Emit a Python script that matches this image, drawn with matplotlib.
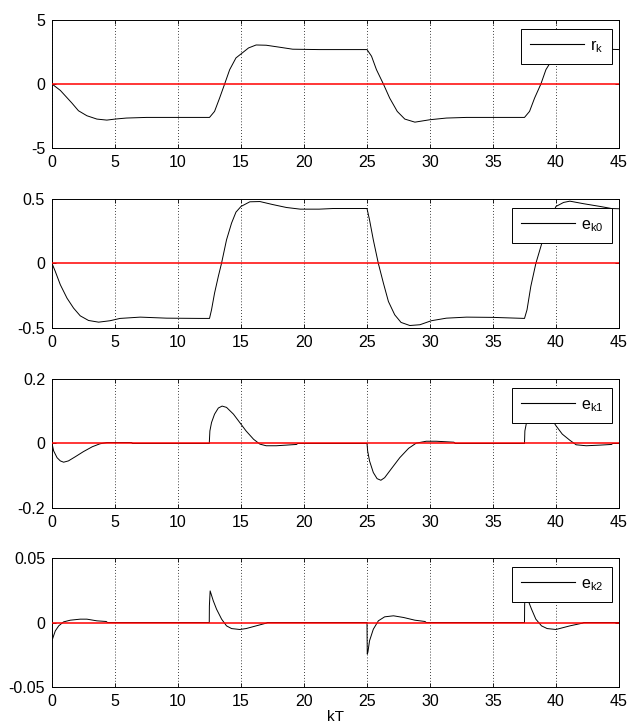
import matplotlib
matplotlib.use("Agg")
import matplotlib.pyplot as plt

plt.rcParams["font.family"] = ["Liberation Sans", "DejaVu Sans"]
plt.rcParams["axes.unicode_minus"] = False
plt.rcParams["font.size"] = 11.5

# values, one list per curve
rk_t = [0, 0.66, 1.58, 2.1, 2.77, 3.56, 4.35, 5.0, 5.9, 7.5, 12.5,
        12.9, 13.3, 13.7, 14.1, 14.6, 15.0, 15.6, 16.2, 17.0, 18.1, 19.1, 21.2, 25.0,
        25.36, 25.75, 26.3, 26.8, 27.4, 28.0, 28.8, 30.0, 31.3, 32.9, 37.5,
        37.9, 38.3, 38.8, 39.2, 39.5, 40.0, 40.6, 41.2, 42.0, 43.1, 44.1, 45.0]
rk_v = [0, -0.5, -1.49, -2.09, -2.48, -2.74, -2.82, -2.74, -2.66, -2.61, -2.61,
        -2.14, -1.1, 0, 1.12, 2.04, 2.35, 2.82, 3.05, 3.03, 2.87, 2.72, 2.69, 2.69,
        2.17, 1.12, 0, -1.1, -2.14, -2.74, -2.98, -2.79, -2.66, -2.61, -2.61,
        -2.14, -1.1, 0, 1.12, 1.6, 2.35, 2.82, 3.05, 3.03, 2.87, 2.72, 2.69]

ek0_t = [0, 0.26, 0.66, 1.19, 1.71, 2.24, 2.9, 3.7, 4.6, 5.4, 7.0, 9.1, 11.7, 12.5,
         12.66, 12.9, 13.2, 13.45, 13.85, 14.25, 14.6, 15.0, 15.7, 16.5, 17.5, 18.6,
         19.7, 21.2, 22.3, 25.0,
         25.2, 25.5, 25.9, 26.3, 26.7, 27.2, 27.7, 28.4, 29.2, 30.1, 31.3, 32.9, 35.0,
         37.5, 37.7, 38.0, 38.4, 38.8, 39.3, 40.0, 40.6, 41.1, 42.2, 43.5, 44.4, 45.0]
ek0_v = [0, -0.062, -0.165, -0.269, -0.346, -0.406, -0.442, -0.455, -0.444, -0.426,
         -0.416, -0.424, -0.426, -0.426,
         -0.359, -0.23, -0.10, 0, 0.183, 0.313, 0.398, 0.442, 0.478, 0.48, 0.457, 0.434,
         0.421, 0.421, 0.426, 0.426,
         0.338, 0.183, 0, -0.152, -0.295, -0.398, -0.457, -0.481, -0.475, -0.444,
         -0.424, -0.416, -0.418, -0.426,
         -0.359, -0.178, 0, 0.132, 0.3, 0.442, 0.473, 0.483, 0.463, 0.442, 0.426, 0.424]

ek1_t = [0, 0.13, 0.4, 0.66, 0.92, 1.3, 1.85, 2.5, 3.2, 3.8, 4.35, 6.3, 6.4, 12.48,
         12.53, 12.66, 12.9, 13.2, 13.5, 13.85, 14.4, 14.9, 15.4, 16.0, 16.5, 17.0,
         17.8, 18.6, 19.4, 19.5, 25.0,
         25.05, 25.2, 25.5, 25.8, 26.1, 26.4, 26.9, 27.6, 28.3, 28.9, 29.7, 30.5, 31.9,
         32.0, 37.5,
         37.53, 37.66, 37.9, 38.2, 38.5, 38.85, 39.4, 40.0, 40.5, 41.1, 41.6, 42.4,
         43.5, 44.4, 44.5, 45.0]
ek1_v = [0, -0.023, -0.044, -0.054, -0.058, -0.054, -0.041, -0.025, -0.010, -0.001,
         0.003, 0.003, 0, 0,
         0.039, 0.065, 0.091, 0.11, 0.116, 0.112, 0.091, 0.065, 0.039, 0.013, -0.002,
         -0.007, -0.007, -0.005, -0.003, 0, 0,
         -0.023, -0.054, -0.09, -0.109, -0.114, -0.106, -0.08, -0.044, -0.015, 0.001,
         0.007, 0.007, 0.004, 0, 0,
         0.039, 0.065, 0.091, 0.11, 0.116, 0.112, 0.091, 0.055, 0.029, 0.01, -0.004,
         -0.007, -0.005, -0.003, 0, 0]

ek2_t = [0, 0.04, 0.08, 0.26, 0.53, 0.92, 1.45, 2.24, 2.77, 3.56, 4.3, 4.4, 12.48,
         12.49, 12.55, 12.8, 13.06, 13.46, 13.85, 14.25, 14.9, 15.4, 16.2, 17.0, 17.1,
         25.0,
         25.02, 25.07, 25.2, 25.5, 25.9, 26.4, 27.1, 27.9, 28.8, 29.6, 29.7, 37.5,
         37.51, 37.55, 37.8, 38.06, 38.4, 38.85, 39.3, 40.0, 41.1, 42.1, 42.2, 45.0]
ek2_v = [0, -0.0129, -0.0116, -0.0065, -0.0026, 0.0005, 0.0018, 0.0026, 0.0026, 0.0013,
         0.0008, 0, 0,
         0.0129, 0.0245, 0.0168, 0.0103, 0.0026, -0.0026, -0.0047, -0.0054, -0.0047,
         -0.0026, -0.0005, 0, 0,
         -0.0245, -0.023, -0.0142, -0.0052, 0.0013, 0.0044, 0.0052, 0.0039, 0.0018,
         0.0008, 0, 0,
         0.0129, 0.0245, 0.0168, 0.0103, 0.0026, -0.0026, -0.0047, -0.0054, -0.0026,
         -0.0005, 0, 0]

series = [
    (rk_t, rk_v, r"$\mathregular{r_k}$", 5, ["-5", "0", "5"]),
    (ek0_t, ek0_v, r"$\mathregular{e_{k0}}$", 0.5, ["-0.5", "0", "0.5"]),
    (ek1_t, ek1_v, r"$\mathregular{e_{k1}}$", 0.2, ["-0.2", "0", "0.2"]),
    (ek2_t, ek2_v, r"$\mathregular{e_{k2}}$", 0.05, ["-0.05", "0", "0.05"]),
]
x_ticks = list(range(0, 50, 5))

# axes boxes in figure fractions: left, bottom, width, height
boxes = [(0.0827, 0.7967, 0.9014, 0.1758),
         (0.0827, 0.5495, 0.9014, 0.1772),
         (0.0827, 0.3022, 0.9014, 0.1772),
         (0.0827, 0.0563, 0.9014, 0.1772)]

fig = plt.figure(figsize=(6.29, 7.28), dpi=100)

for (t, v, label, lim, ylabels), box in zip(series, boxes):
    ax = fig.add_axes(box)
    ax.plot(t, v, color="k", lw=0.7, label=label, zorder=2)
    ax.axhline(0, color="red", lw=1.1, zorder=3)
    ax.set_xlim(0, 45)
    ax.set_ylim(-lim, lim)
    ax.set_xticks(x_ticks)
    ax.set_yticks([-lim, 0, lim])
    ax.set_yticklabels(ylabels)
    ax.tick_params(direction="in", length=3, width=0.6, top=True, right=True,
                   labelsize=11.5, pad=5)
    ax.xaxis.grid(True, color="k", linestyle=(0, (1, 2.5)), lw=0.6)
    for s in ax.spines.values():
        s.set_linewidth(0.7)
    leg = ax.legend(loc="upper right", bbox_to_anchor=(0.988, 0.93), fancybox=False,
                    framealpha=1, edgecolor="k", handlelength=3.4, borderpad=0.56,
                    handletextpad=0.37, borderaxespad=0, fontsize=11.5)
    leg.get_frame().set_linewidth(0.7)
    for ln in leg.get_lines():
        ln.set_linewidth(0.8)

ax.set_xlabel("kT", labelpad=1, fontsize=11)

fig.savefig("out.png", dpi=100)
